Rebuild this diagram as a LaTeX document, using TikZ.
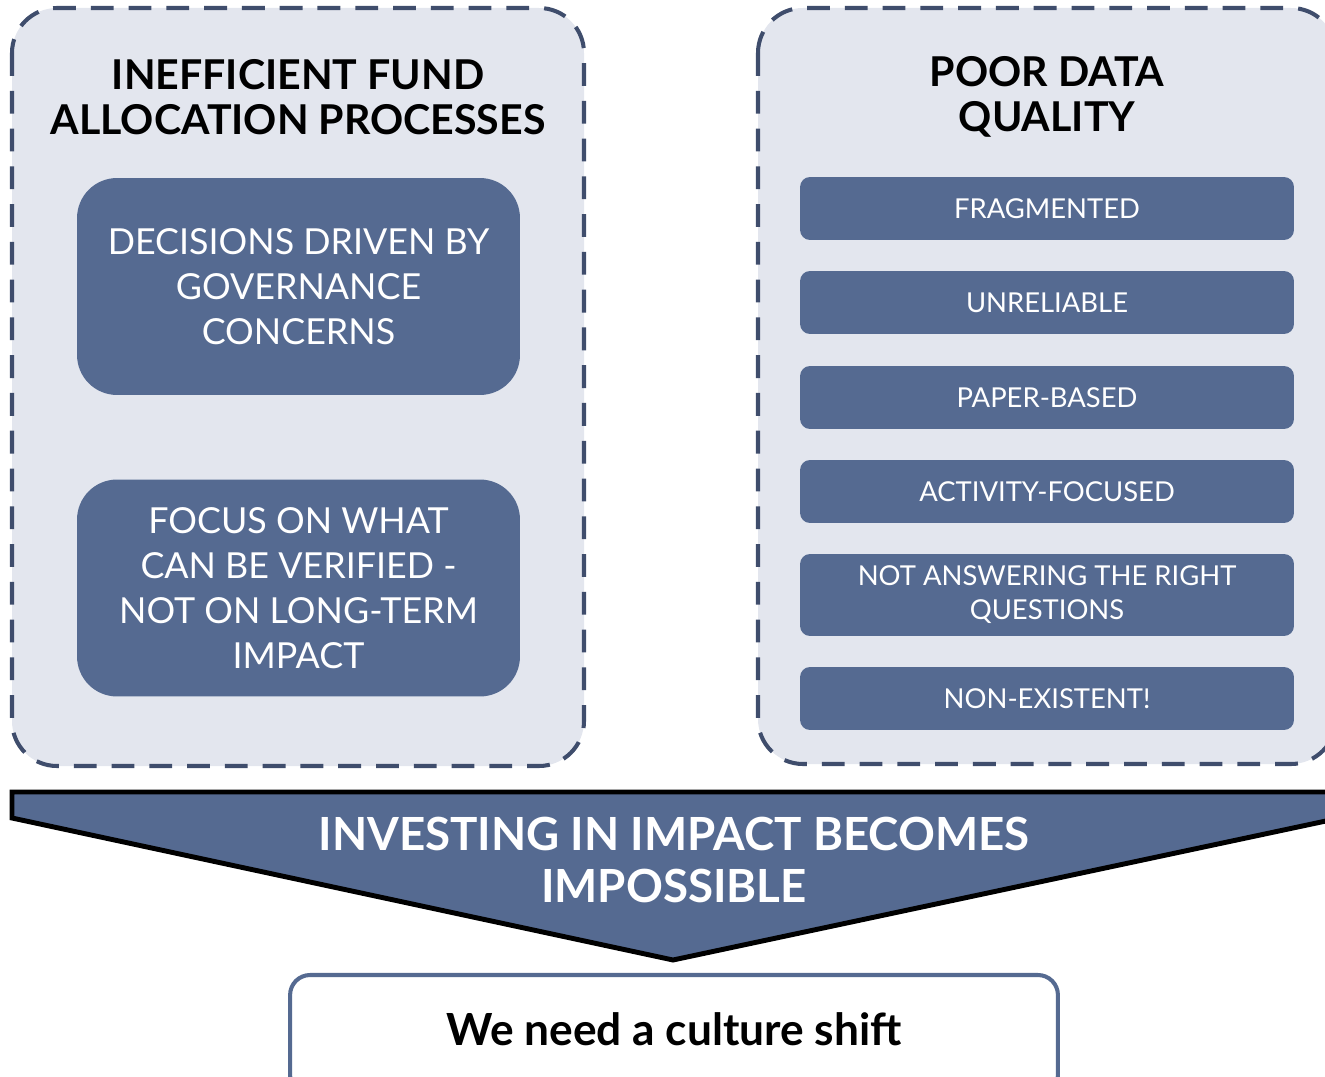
\documentclass[tikz,border=0pt]{standalone}
\usepackage{fontspec}
\setmainfont{Lato}
\usetikzlibrary{calc}
\definecolor{panelfill}{HTML}{E3E6EE}
\definecolor{paneldraw}{HTML}{3F4D6C}
\definecolor{boxfill}{HTML}{556A91}

\begin{document}
\begin{tikzpicture}[x=0.02cm,y=-0.02cm,
		panel/.style={draw=paneldraw,fill=panelfill,line width=2.3pt,dash pattern=on 13pt off 8.5pt,rounded corners=0.9cm},
		heading/.style={font=\bfseries\fontsize{23.4}{25.5}\selectfont,align=center,text=black},
		bigbox/.style={fill=boxfill,rounded corners=0.8cm,minimum width=8.86cm,minimum height=4.34cm,text=white,align=center,font=\fontsize{20.4}{25.5}\selectfont},
		smallbox/.style={fill=boxfill,rounded corners=0.2cm,minimum width=9.88cm,minimum height=1.26cm,text=white,align=center,font=\fontsize{15.6}{19.3}\selectfont}]
	\useasboundingbox (0,0) rectangle (1325,1077);
	\draw[panel] (12,8) rectangle (584,766);
	\draw[panel] (758,8) rectangle (1336,764);
	\node[heading] (fund) at (298,97) {INEFFICIENT FUND\\ALLOCATION PROCESSES};
	\node[heading] (data) at (1047,97) {POOR DATA\\QUALITY};
	\node[bigbox] (gov) at (298.5,286.5) {DECISIONS DRIVEN BY\\GOVERNANCE\\CONCERNS};
	\node[bigbox] (verif) at (298.5,588) {FOCUS ON WHAT\\CAN BE VERIFIED -\\NOT ON LONG-TERM\\IMPACT};
	\node[smallbox] (frag) at (1047,208.5) {FRAGMENTED};
	\node[smallbox] (unrel) at (1047,302.5) {UNRELIABLE};
	\node[smallbox] (paper) at (1047,397.5) {PAPER-BASED};
	\node[smallbox] (activ) at (1047,491.5) {ACTIVITY-FOCUSED};
	\node[smallbox,minimum height=1.64cm] (quest) at (1047,595) {NOT ANSWERING THE RIGHT\\QUESTIONS};
	\node[smallbox] (nonex) at (1047,698.5) {NON-EXISTENT!};
	\draw[fill=boxfill,line width=2.8pt] (12,792) -- (1340,792) -- (1340,818) -- (673,960) -- (12,818) -- cycle;
	\node[heading,text=white,font=\bfseries\fontsize{26}{29.5}\selectfont] (invest) at (674,860) {INVESTING IN IMPACT BECOMES\\IMPOSSIBLE};
	\node[draw=boxfill,fill=white,line width=2.3pt,rounded corners=0.4cm,minimum width=15.36cm,minimum height=2.4cm] (shift) at (674,1035) {};
	\node[heading,font=\bfseries\fontsize{25.2}{27}\selectfont] (culture) at (674,1029) {We need a culture shift};
\end{tikzpicture}
\end{document}
